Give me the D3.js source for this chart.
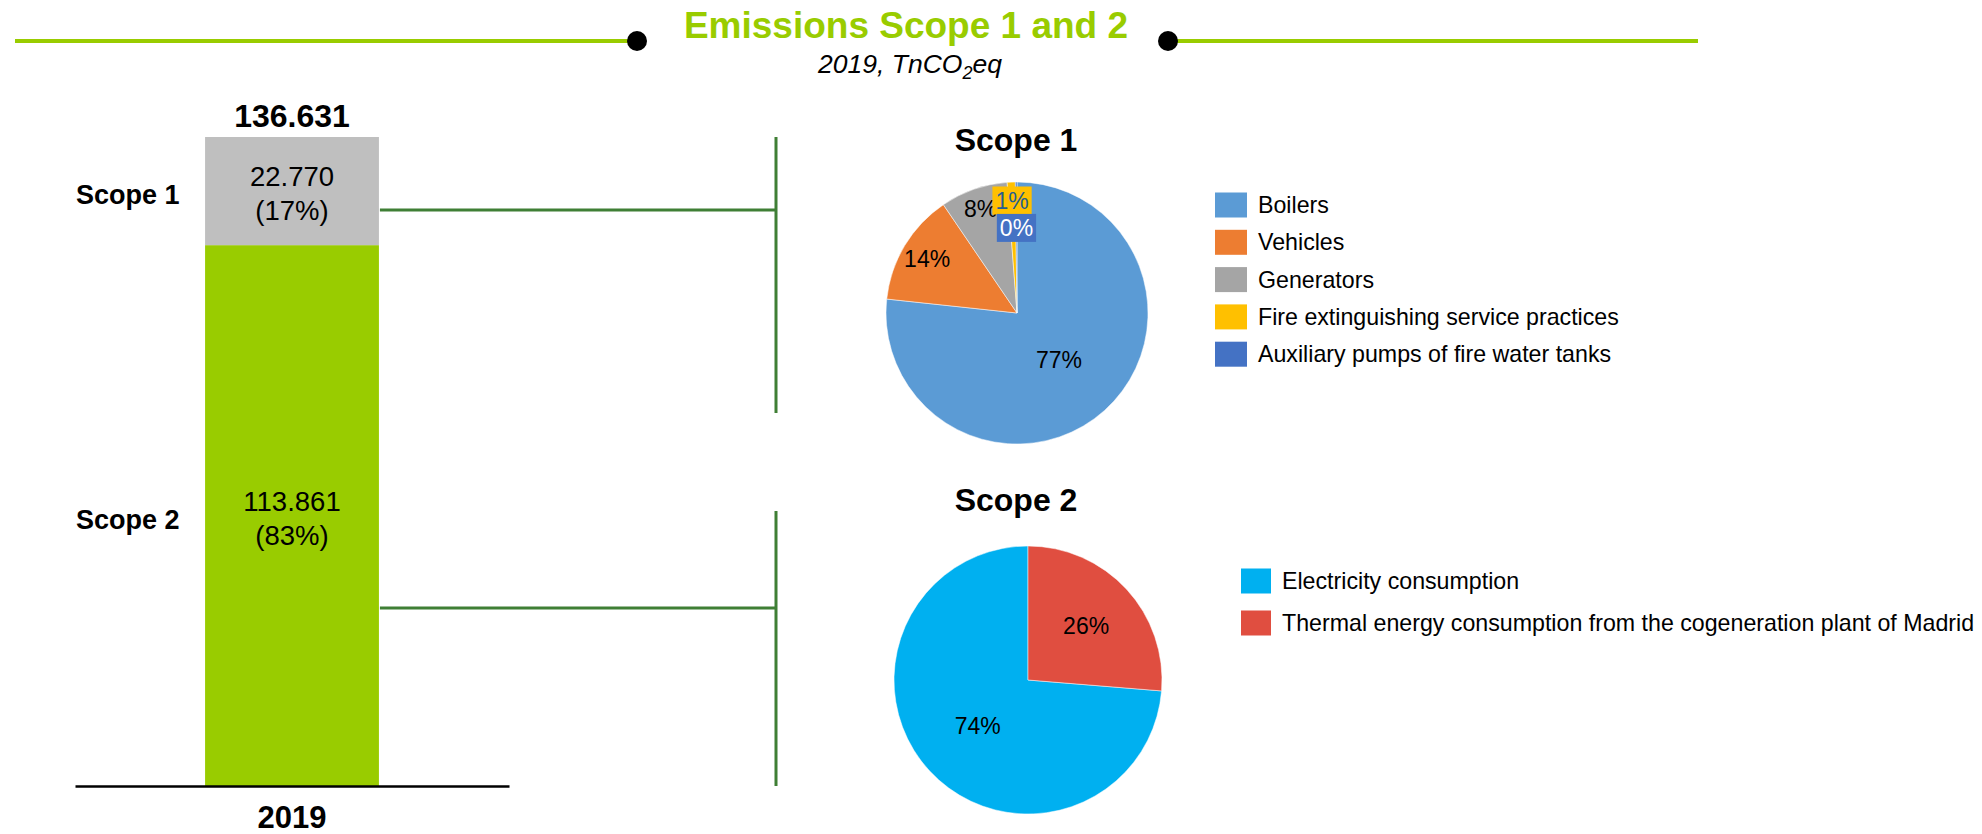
<!DOCTYPE html>
<html lang="en">
<head>
<meta charset="utf-8">
<title>Emissions Scope 1 and 2</title>
<script src="https://cdn.jsdelivr.net/npm/d3@7"></script>
<style>
  body { margin: 0; background: #fff; }
  svg text { font-family: "Liberation Sans", Arial, sans-serif; }
</style>
</head>
<body>
<script>
// stacked bar, bottom to top
var barYear = ["2019"];
var scopes = ["Scope 2", "Scope 1"];
var scopeValues = [113861, 22770];

// Scope 1 breakdown (% of scope 1)
var scope1Sources = ["Boilers", "Vehicles", "Generators", "Fire extinguishing service practices", "Auxiliary pumps of fire water tanks"];
var scope1Shares = [76.7, 13.8, 8.3, 1.0, 0.2];

// Scope 2 breakdown (% of scope 2)
var scope2Sources = ["Electricity consumption", "Thermal energy consumption from the cogeneration plant of Madrid"];
var scope2Shares = [73.7, 26.3];

var w = 1982, h = 834;
var green = "#99CC00";
var lineGreen = "#3F7F35";

var svg = d3.select("body").append("svg")
    .attr("width", w)
    .attr("height", h);

// number format with dots as thousands separator
var loc = d3.formatLocale({decimal: ",", thousands: ".", grouping: [3], currency: ["", ""]});
var fmt = loc.format(",");

// ---- header
svg.append("line").attr("x1", 15).attr("x2", 632).attr("y1", 41).attr("y2", 41)
    .attr("stroke", green).attr("stroke-width", 4);
svg.append("line").attr("x1", 1173).attr("x2", 1698).attr("y1", 41).attr("y2", 41)
    .attr("stroke", green).attr("stroke-width", 4);
svg.append("circle").attr("cx", 637).attr("cy", 41).attr("r", 10).attr("fill", "#000");
svg.append("circle").attr("cx", 1168).attr("cy", 41).attr("r", 10).attr("fill", "#000");

svg.append("text")
    .attr("x", 906).attr("y", 38)
    .attr("text-anchor", "middle")
    .style("font-size", "37px").style("font-weight", "bold")
    .attr("fill", green)
    .text("Emissions Scope 1 and 2");

var sub = svg.append("text")
    .attr("x", 910).attr("y", 73)
    .attr("text-anchor", "middle")
    .style("font-size", "26.5px").style("font-style", "italic");
sub.append("tspan").text("2019, TnCO");
sub.append("tspan").attr("dy", 6).style("font-size", "18px").text("2");
sub.append("tspan").attr("dy", -6).text("eq");

// ---- stacked bar
var total = d3.sum(scopeValues);
var row = {year: barYear[0]};
scopes.forEach(function(s, i) { row[s] = scopeValues[i]; });
var series = d3.stack().keys(scopes)([row]);

var yScale = d3.scaleLinear().domain([0, total]).range([786, 137]);
var xScale = d3.scaleBand().domain(barYear).range([75, 509])
    .paddingInner(0.428).paddingOuter(0.428);
var barColor = d3.scaleOrdinal().domain(scopes).range([green, "#BFBFBF"]);

svg.selectAll("rect.seg")
    .data(series)
    .enter()
    .append("rect")
    .attr("class", "seg")
    .attr("x", xScale(barYear[0]))
    .attr("width", xScale.bandwidth())
    .attr("y", function(d) { return yScale(d[0][1]); })
    .attr("height", function(d) { return yScale(d[0][0]) - yScale(d[0][1]); })
    .attr("fill", function(d) { return barColor(d.key); });

var cx = xScale(barYear[0]) + xScale.bandwidth() / 2;

// value labels inside segments
series.forEach(function(s) {
  var mid = (yScale(s[0][0]) + yScale(s[0][1])) / 2;
  var t = svg.append("text")
      .attr("text-anchor", "middle")
      .style("font-size", "27.5px")
      .attr("fill", "#000");
  t.append("tspan").attr("x", cx).attr("y", mid - 5).text(fmt(s[0].data[s.key]));
  t.append("tspan").attr("x", cx).attr("y", mid + 29)
      .text("(" + Math.round(s[0].data[s.key] / total * 100) + "%)");

  svg.append("text")
      .attr("x", 76).attr("y", mid + 13)
      .style("font-size", "27px").style("font-weight", "bold")
      .text(s.key);
});

// total on top
svg.append("text")
    .attr("x", cx).attr("y", yScale(total) - 10)
    .attr("text-anchor", "middle")
    .style("font-size", "32px").style("font-weight", "bold")
    .text(fmt(total));

// x axis
var xAxis = d3.axisBottom(xScale).tickSize(0).tickSizeOuter(0).tickPadding(20);
var gx = svg.append("g")
    .attr("transform", "translate(0," + yScale(0) + ")")
    .call(xAxis);
gx.select(".domain").attr("stroke", "#000").attr("stroke-width", 2.5);
gx.selectAll("text")
    .style("font-size", "31px").style("font-weight", "bold")
    .attr("fill", "#000");

// connectors to the pies
var connX = 776;
svg.append("line").attr("x1", connX).attr("x2", connX).attr("y1", yScale(total)).attr("y2", 413)
    .attr("stroke", lineGreen).attr("stroke-width", 3);
svg.append("line").attr("x1", xScale(barYear[0]) + xScale.bandwidth() + 1).attr("x2", connX)
    .attr("y1", 210).attr("y2", 210)
    .attr("stroke", lineGreen).attr("stroke-width", 3);
svg.append("line").attr("x1", connX).attr("x2", connX).attr("y1", 511).attr("y2", yScale(0))
    .attr("stroke", lineGreen).attr("stroke-width", 3);
svg.append("line").attr("x1", xScale(barYear[0]) + xScale.bandwidth() + 1).attr("x2", connX)
    .attr("y1", 608).attr("y2", 608)
    .attr("stroke", lineGreen).attr("stroke-width", 3);

// ---- pies
function drawPie(opt) {
  var g = svg.append("g").attr("transform", "translate(" + opt.cx + "," + opt.cy + ")");
  var color = d3.scaleOrdinal().domain(opt.labels).range(opt.colors);
  var pie = d3.pie().sort(null).value(function(d) { return d.v; })
      .startAngle(opt.start).endAngle(opt.start + 2 * Math.PI);
  var data = opt.labels.map(function(l, i) { return {k: l, v: opt.values[i], i: i}; });
  var arcs = pie(data);
  var arc = d3.arc().innerRadius(0).outerRadius(opt.r);

  g.selectAll("path")
      .data(arcs)
      .enter()
      .append("path")
      .attr("d", arc)
      .attr("fill", function(d) { return color(d.data.k); })
      .attr("stroke", "#fff")
      .attr("stroke-width", 0.5);

  arcs.forEach(function(d, i) {
    var la = d3.arc().innerRadius(opt.r * opt.labelK[i]).outerRadius(opt.r * opt.labelK[i]);
    var c = la.centroid(d);
    var st = opt.labelStyle ? opt.labelStyle[i] : null;
    var lg = g.append("g");
    var t = lg.append("text")
        .attr("x", c[0]).attr("y", c[1])
        .attr("text-anchor", "middle")
        .attr("dy", "0.35em")
        .style("font-size", "23px")
        .attr("fill", st ? st.text : "#000")
        .text(Math.round(d.data.v) + "%");
    if (st) {
      var bb = t.node().getBBox();
      lg.insert("rect", "text")
          .attr("x", bb.x - 3).attr("y", bb.y - 1)
          .attr("width", bb.width + 6).attr("height", bb.height + 2)
          .attr("fill", color(d.data.k));
    }
  });

  svg.append("text")
      .attr("x", opt.titleX).attr("y", opt.titleY)
      .attr("text-anchor", "middle")
      .style("font-size", "32px").style("font-weight", "bold")
      .text(opt.title);

  // legend
  var ly = d3.scalePoint().domain(opt.labels).range([opt.legY0, opt.legY0 + opt.legStep * (opt.labels.length - 1)]);
  var leg = svg.selectAll(null)
      .data(opt.labels)
      .enter()
      .append("g")
      .attr("transform", function(d) { return "translate(" + opt.legX + "," + ly(d) + ")"; });
  leg.append("rect")
      .attr("x", 0).attr("y", -12.5)
      .attr("width", opt.sqW).attr("height", 25)
      .attr("fill", function(d) { return color(d); });
  leg.append("text")
      .attr("x", opt.textDx).attr("y", 0)
      .attr("dy", "0.35em")
      .style("font-size", "23.2px")
      .attr("fill", "#000")
      .text(function(d) { return d; });
}

drawPie({
  cx: 1017, cy: 313, r: 131,
  labels: scope1Sources, values: scope1Shares,
  colors: ["#5B9BD5", "#ED7D31", "#A5A5A5", "#FFC000", "#4472C4"],
  start: 0,
  labelK: [0.48, 0.80, 0.84, 0.86, 0.65],
  labelStyle: [null, null, null, {text: "#255E91"}, {text: "#fff"}],
  title: "Scope 1", titleX: 1016, titleY: 151,
  legX: 1215, legY0: 205, legStep: 37.3, sqW: 32, textDx: 43
});

drawPie({
  cx: 1028, cy: 680, r: 134,
  labels: scope2Sources, values: scope2Shares,
  colors: ["#00B0F0", "#E04E40"],
  start: 2 * Math.PI * scope2Shares[1] / d3.sum(scope2Shares),
  labelK: [0.51, 0.59],
  labelStyle: null,
  title: "Scope 2", titleX: 1016, titleY: 511,
  legX: 1241, legY0: 581, legStep: 42, sqW: 30, textDx: 41
});
</script>
</body>
</html>
